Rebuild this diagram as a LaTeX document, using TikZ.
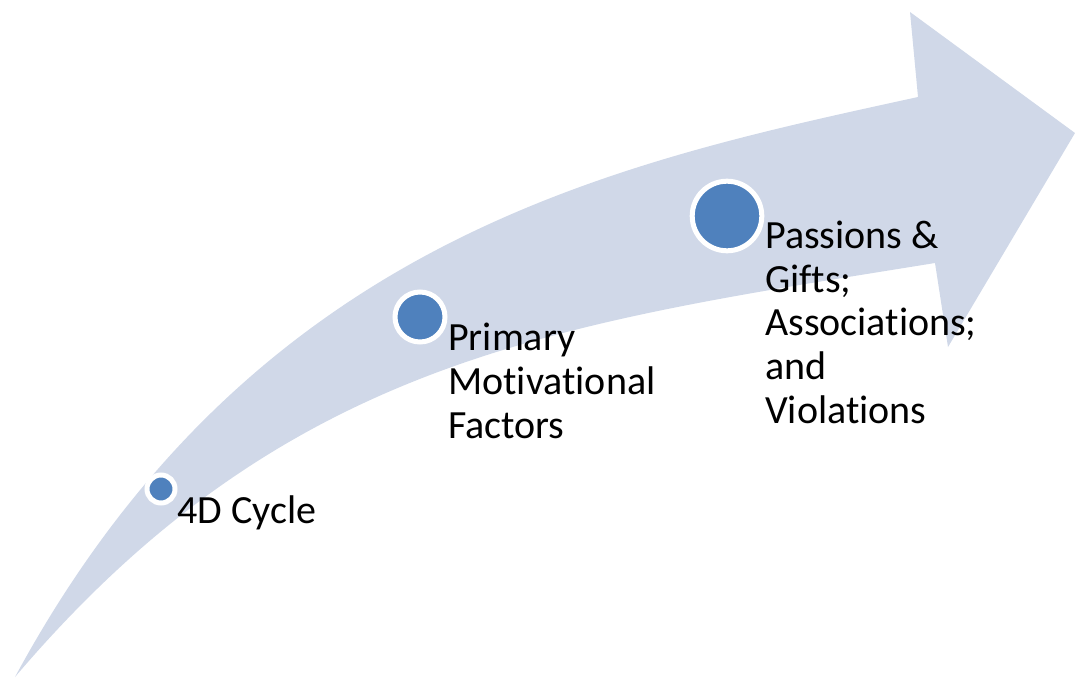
\documentclass[tikz,border=0pt]{standalone}
\usepackage{fontspec}
\setmainfont{Carlito}[Ligatures={NoCommon}]
\definecolor{bandfill}{HTML}{D0D8E8}
\definecolor{dotfill}{HTML}{4F81BD}
\begin{document}
\begin{tikzpicture}[x=1pt,y=-1pt,
  dot/.style={circle,fill=dotfill,draw=white,line width=5pt,inner sep=0pt},
  label/.style={anchor=base west,inner sep=0pt,align=left,
    font=\fontsize{40}{43.6}\selectfont,text=black}]
\useasboundingbox (0,0) rectangle (1075,677);
% curved rising arrow
\fill[bandfill] (15,677) .. controls (253,237) and (616,163) .. (918,97)
  -- (910,12) -- (1075,133) -- (948,347) -- (935,263)
  .. controls (558,324) and (287,357) .. (15,677) -- cycle;
% milestones
\node[dot,minimum size=28pt] (c1) at (161,489) {};
\node[dot,minimum size=50pt] (c2) at (420,317) {};
\node[dot,minimum size=69.6pt] (c3) at (727,216) {};
% labels (base anchor sits on the last line)
\node[label] (t1) at (177,523) {4D Cycle};
\node[label] (t2) at (448,438) {Primary\\Motivational\\Factors};
\node[label] (t3) at (765,423) {Passions \&\\Gifts;\\Associations;\\and\\Violations};
\end{tikzpicture}
\end{document}
